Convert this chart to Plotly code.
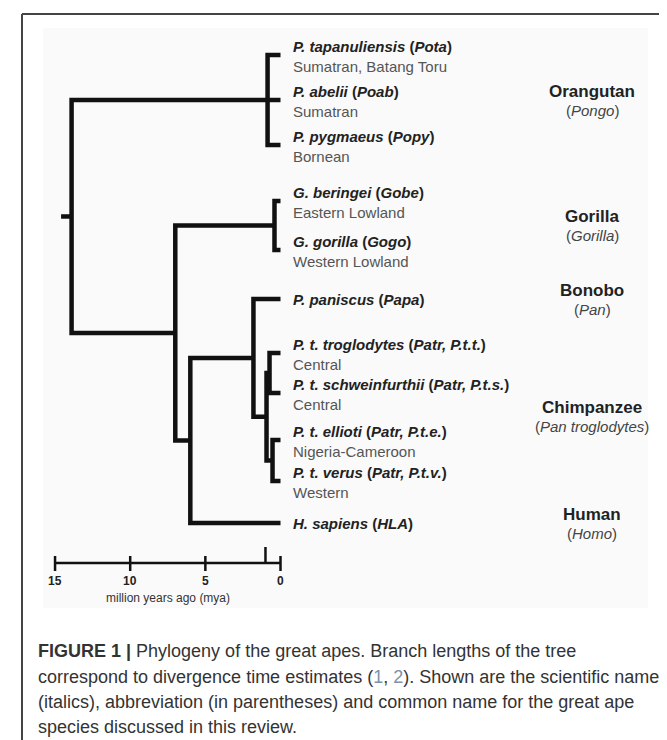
import plotly.graph_objects as go

# ---------------- data ----------------
tip_codes = ["Pota", "Poab", "Popy", "Gobe", "Gogo", "Papa", "Ptt", "Pts", "Pte", "Ptv", "HLA"]
tip_sci = ["P. tapanuliensis", "P. abelii", "P. pygmaeus", "G. beringei", "G. gorilla",
           "P. paniscus", "P. t. troglodytes", "P. t. schweinfurthii", "P. t. ellioti",
           "P. t. verus", "H. sapiens"]
tip_abbr = ["Pota", "Poab", "Popy", "Gobe", "Gogo", "Papa", "Patr, P.t.t.", "Patr, P.t.s.",
            "Patr, P.t.e.", "Patr, P.t.v.", "HLA"]
tip_common = ["Sumatran, Batang Toru", "Sumatran", "Bornean", "Eastern Lowland", "Western Lowland",
              "", "Central", "Central", "Nigeria-Cameroon", "Western", ""]

node_names = ["root", "Pongo", "Homininae", "Gorilla", "PanHomo", "Pan", "Chimp",
              "CentralChimp", "WesternChimp"]
node_age_mya = [13.9, 0.86, 7.0, 0.4, 6.0, 1.8, 0.93, 0.73, 0.53]
node_children = [["Pongo", "Homininae"], ["Pota", "Poab", "Popy"], ["Gorilla", "PanHomo"],
                 ["Gobe", "Gogo"], ["Pan", "HLA"], ["Papa", "Chimp"],
                 ["CentralChimp", "WesternChimp"], ["Ptt", "Pts"], ["Pte", "Ptv"]]
root_stem_mya = 14.6

group_names = ["Orangutan", "Gorilla", "Bonobo", "Chimpanzee", "Human"]
group_genus = ["Pongo", "Gorilla", "Pan", "Pan troglodytes", "Homo"]
group_anchor = ["Pongo", "Gorilla", "Papa", "Chimp", "HLA"]

scale_ticks = [15, 10, 5, 0]
scale_marker_mya = 1
scale_title = "million years ago (mya)"

caption_lines = [
    "<b>FIGURE 1 |</b> Phylogeny of the great apes. Branch lengths of the tree",
    "correspond to divergence time estimates (<span style='color:#7f90a8'>1</span>, "
    "<span style='color:#7f90a8'>2</span>). Shown are the scientific name",
    "(italics), abbreviation (in parentheses) and common name for the great ape",
    "species discussed in this review.",
]

# ---------------- layout (pixels) ----------------
W, H = 667, 740
X0 = 272.5          # pixel x of 0 mya
K = 15.03           # pixels per mya
tip_rows = [47, 92, 137, 193, 242, 291, 345, 385, 432, 473, 515]
FONT = "Liberation Sans, Arial, Helvetica, sans-serif"


def px2mya(px):
    return (X0 - px) / K


def paper(px, py):
    return px / W, 1 - py / H


# compute node positions
ypos = {c: y for c, y in zip(tip_codes, tip_rows)}
age = {c: 0.0 for c in tip_codes}
for n, a in zip(node_names, node_age_mya):
    age[n] = a
children = dict(zip(node_names, node_children))


def node_y(n):
    if n in ypos:
        return ypos[n]
    ys = [node_y(c) for c in children[n]]
    ypos[n] = sum(ys) / len(ys)
    return ypos[n]


node_y("root")

# tree segments
tx, ty = [], []
for n in node_names:
    ch = sorted(children[n], key=lambda c: ypos[c])
    first, last = ch[0], ch[-1]
    tx += [age[first], age[n], age[n], age[last], None]
    ty += [ypos[first], ypos[first], ypos[last], ypos[last], None]
    for c in ch[1:-1]:
        tx += [age[n], age[c], None]
        ty += [ypos[c], ypos[c], None]
tx += [root_stem_mya, age["root"], None]
ty += [ypos["root"], ypos["root"], None]

fig = go.Figure()
fig.add_trace(go.Scatter(x=tx, y=ty, mode="lines",
                         line=dict(color="#111111", width=4.5),
                         hoverinfo="skip", showlegend=False))

# scale bar
SB_Y = 555
sx = [scale_ticks[0], scale_ticks[-1], None]
sy = [SB_Y, SB_Y, None]
for t in scale_ticks:
    sx += [t, t, None]
    sy += [SB_Y - 7, SB_Y + 8, None]
sx += [scale_marker_mya, scale_marker_mya, None]
sy += [SB_Y - 16, SB_Y, None]
fig.add_trace(go.Scatter(x=sx, y=sy, mode="lines",
                         line=dict(color="#111111", width=2.5),
                         hoverinfo="skip", showlegend=False))

ann = []
for t in scale_ticks:
    ann.append(dict(x=t, y=573, xref="x", yref="y", text=f"<b>{t}</b>",
                    showarrow=False, xanchor="center", yanchor="middle",
                    font=dict(family=FONT, size=12, color="#222")))
ann.append(dict(x=(scale_ticks[0] + scale_ticks[-1]) / 2, y=590, xref="x", yref="y",
                text=scale_title, showarrow=False, xanchor="center", yanchor="middle",
                font=dict(family=FONT, size=12, color="#333")))

# tip labels
LX = px2mya(283)
for code, sci, ab, com in zip(tip_codes, tip_sci, tip_abbr, tip_common):
    y = ypos[code]
    name = f"<b><i>{sci}</i> (<i>{ab}</i>)</b>"
    if com:
        ann.append(dict(x=LX, y=y - 9, xref="x", yref="y", text=name, showarrow=False,
                        xanchor="left", yanchor="middle",
                        font=dict(family=FONT, size=15, color="#222")))
        ann.append(dict(x=LX, y=y + 11, xref="x", yref="y", text=com, showarrow=False,
                        xanchor="left", yanchor="middle",
                        font=dict(family=FONT, size=15, color="#555")))
    else:
        ann.append(dict(x=LX, y=y, xref="x", yref="y", text=name, showarrow=False,
                        xanchor="left", yanchor="middle",
                        font=dict(family=FONT, size=15, color="#222")))

# group labels
GX = px2mya(584)
for g, gen, anc in zip(group_names, group_genus, group_anchor):
    y = ypos[anc]
    ann.append(dict(x=GX, y=y - 9, xref="x", yref="y", text=f"<b>{g}</b>", showarrow=False,
                    xanchor="center", yanchor="middle",
                    font=dict(family=FONT, size=17, color="#222")))
    ann.append(dict(x=GX, y=y + 10, xref="x", yref="y", text=f"(<i>{gen}</i>)",
                    showarrow=False, xanchor="center", yanchor="middle",
                    font=dict(family=FONT, size=15, color="#444")))

# caption
cap_y = [643, 669, 694, 719]
for line, y in zip(caption_lines, cap_y):
    px, py = paper(28, y)
    ann.append(dict(x=px, y=py, xref="paper", yref="paper", text=line, showarrow=False,
                    xanchor="left", yanchor="middle",
                    font=dict(family=FONT, size=18, color="#333")))

shapes = [
    # figure panel background
    dict(type="rect", xref="paper", yref="paper",
         x0=35 / W, x1=640 / W, y0=1 - 600 / H, y1=1 - 20 / H,
         fillcolor="#fafafa", line=dict(width=0), layer="below"),
    # frame
    dict(type="line", xref="paper", yref="paper", x0=14 / W, x1=1, y0=1 - 6 / H, y1=1 - 6 / H,
         line=dict(color="#444", width=2)),
    dict(type="line", xref="paper", yref="paper", x0=14 / W, x1=14 / W, y0=1 - 6 / H, y1=0,
         line=dict(color="#444", width=2)),
]

fig.update_layout(
    width=W, height=H,
    margin=dict(l=0, r=0, t=0, b=0),
    paper_bgcolor="white", plot_bgcolor="rgba(0,0,0,0)",
    xaxis=dict(range=[px2mya(0), px2mya(W)], visible=False, fixedrange=True),
    yaxis=dict(range=[H, 0], visible=False, fixedrange=True),
    annotations=ann, shapes=shapes, showlegend=False,
)

fig.write_html("out.html")
